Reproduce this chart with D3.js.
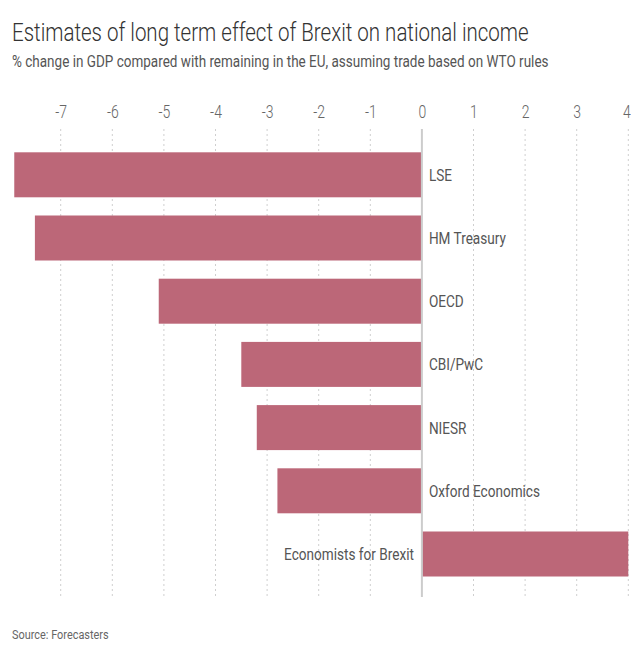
<!DOCTYPE html>
<html>
<head>
<meta charset="utf-8">
<script src="https://cdn.jsdelivr.net/npm/d3@7"></script>
<style>
  html, body { margin: 0; padding: 0; background: #fff; }
  svg { display: block; }
  text { font-family: "Roboto", "Liberation Sans", sans-serif; }
</style>
</head>
<body>
<script>
const categories = ["LSE", "HM Treasury", "OECD", "CBI/PwC", "NIESR", "Oxford Economics", "Economists for Brexit"];
const values = [-7.9, -7.5, -5.1, -3.5, -3.2, -2.8, 4.0];
const tickValues = [-7, -6, -5, -4, -3, -2, -1, 0, 1, 2, 3, 4];
const titleText = "Estimates of long term effect of Brexit on national income";
const subtitleText = "% change in GDP compared with remaining in the EU, assuming trade based on WTO rules";
const sourceText = "Source: Forecasters";

const W = 631, H = 646;
const svg = d3.select("body").append("svg").attr("width", W).attr("height", H);

// horizontally condense text (mimic a condensed typeface) with a scale transform
function condenseAt(sel, px, py, ratio) {
  sel.attr("x", 0).attr("y", 0)
    .attr("transform", `translate(${px},${py}) scale(${ratio},1)`);
}
function fitAt(sel, px, py, target) {
  const w = sel.node().getComputedTextLength();
  condenseAt(sel, px, py, target / w);
}

const x = d3.scaleLinear().domain([-7, 4]).range([60.7, 628.3]);
const y = d3.scaleBand().domain(categories).range([152.3, 576.5]).paddingInner(0.288).paddingOuter(0);

// title
svg.append("text")
  .attr("font-size", 25.5).attr("font-weight", 300).attr("fill", "#333").text(titleText)
  .call(fitAt, 12, 40.5, 517);
svg.append("text")
  .attr("font-size", 17).attr("fill", "#555").text(subtitleText)
  .call(fitAt, 12, 67, 537);

// gridlines
svg.append("g").selectAll("line").data(tickValues.filter(d => d !== 0)).join("line")
  .attr("x1", d => x(d)).attr("x2", d => x(d))
  .attr("y1", 129).attr("y2", 597)
  .attr("stroke", "#cfcfcf").attr("stroke-width", 1).attr("stroke-dasharray", "2,3");

// tick labels via axis
const axis = d3.axisTop(x).tickValues(tickValues).tickSize(0).tickPadding(0).tickFormat(d => String(d));
const ag = svg.append("g").attr("transform", "translate(0,118)").call(axis);
ag.select(".domain").remove();
ag.selectAll("text").attr("font-size", 17.5).attr("fill", "#666")
  .attr("font-family", "Roboto, sans-serif").attr("font-weight", 300).attr("dy", 0)
  .attr("transform", d => d === 4 ? "translate(-2,0) scale(0.8,1)" : "scale(0.8,1)");

// bars
svg.append("g").selectAll("rect").data(categories).join("rect")
  .attr("x", (d, i) => x(Math.min(0, values[i])))
  .attr("y", d => y(d))
  .attr("width", (d, i) => Math.abs(x(values[i]) - x(0)))
  .attr("height", y.bandwidth())
  .attr("fill", "#bc6778");

// zero line
svg.append("line").attr("x1", x(0)).attr("x2", x(0)).attr("y1", 129).attr("y2", 597)
  .attr("stroke", "#cccccc").attr("stroke-width", 2);

// category labels
svg.append("g").selectAll("text").data(categories).join("text")
  .attr("text-anchor", (d, i) => values[i] < 0 ? "start" : "end")
  .attr("dy", "0.35em")
  .attr("font-size", 17).attr("fill", "#555")
  .text(d => d)
  .attr("transform", (d, i) => {
    const px = values[i] < 0 ? x(0) + 7 : x(0) - 8;
    const py = y(d) + y.bandwidth() / 2;
    return `translate(${px},${py}) scale(0.8,1)`;
  });

// source
svg.append("text")
  .attr("font-size", 13).attr("fill", "#666").text(sourceText)
  .call(condenseAt, 12, 639, 0.84);
</script>
</body>
</html>
